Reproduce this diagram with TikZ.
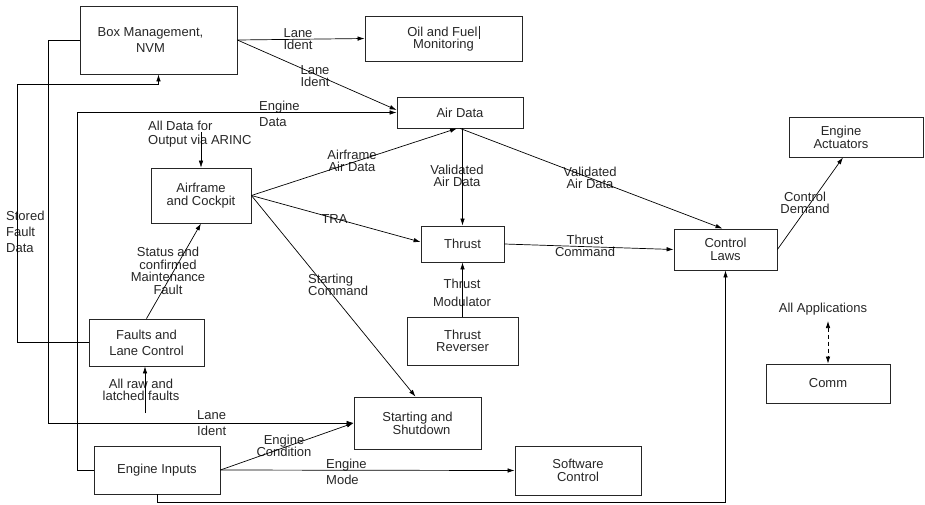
\documentclass[tikz,border=0pt]{standalone}
\usepackage{fontspec}
\setmainfont{Liberation Sans}
\usetikzlibrary{arrows.meta,calc}
\begin{document}
\begin{tikzpicture}[x=1pt,y=-1pt,
  box/.style={draw=black!85, line width=0.8pt, align=center, inner sep=0pt,
    text=black!85, font=\fontsize{13}{13}\selectfont},
  dims/.style 2 args={minimum width=#1pt, minimum height=#2pt},
  lbl/.style={inner sep=0pt, align=center, text=black!85},
  lead/.style={font=\fontsize{13}{#1}\selectfont},
  arr/.style={draw=black, line width=0.7pt, -{Latex[length=7pt,width=4.5pt]}},
  wire/.style={draw=black, line width=0.7pt}]
\useasboundingbox (0,0) rectangle (925,504);

% ---- function blocks ----
\node[box, dims={157}{68},
  label={[lbl, lead=16, xshift=-8pt]center:Box Management,\\NVM}] (bm) at (158.5,40) {};
\node[box, dims={157}{45}, lead=12.5] (oil) at (443.5,38.5)
  {Oil and Fuel\hspace{1.5pt}\rule[-2.5pt]{0.7pt}{13pt}\\Monitoring};
\node[box, dims={126}{31}] (air) at (460,112.5) {Air Data};
\node[box, dims={134}{40},
  label={[lbl, lead=13, xshift=-15pt]center:Engine\\Actuators}] (act) at (856,137) {};
\node[box, dims={103}{41}, lead=12.5] (cl) at (725.5,249.5) {Control\\Laws};
\node[box, dims={100}{55}] (afc) at (201,195.5) {Airframe\\and Cockpit};
\node[box, dims={83}{36}] (thr) at (462.5,244) {Thrust};
\node[box, dims={111}{48}, lead=12.5] (rev) at (462.5,341) {Thrust\\Reverser};
\node[box, dims={115}{47}, lead=16] (flc) at (146.5,342.5) {Faults and\\Lane Control};
\node[box, dims={126}{48}] (ei) at (157,470) {Engine Inputs};
\node[box, dims={127}{52}] (ss) at (417.5,423) {Starting and\\\hspace*{8pt}Shutdown};
\node[box, dims={126}{49}, lead=12.5] (sw) at (578,470.5) {Software\\Control};
\node[box, dims={124}{39}] (comm) at (828,383.5) {Comm};

% ---- flow labels ----
\node[lbl, lead=12.5] (t1) at (298,39) {Lane\\Ident};
\node[lbl, lead=12.5] (t2) at (315,76) {Lane\\Ident};
\node[lbl, lead=16, anchor=west, align=left] (t3) at (259,114) {Engine\\Data};
\node[lbl, lead=13.5, anchor=west, align=left] (t4) at (148,134) {All Data for\\Output via ARINC};
\node[lbl, lead=16, anchor=west, align=left] (t5) at (6,232) {Stored\\Fault\\Data};
\node[lbl, lead=12.5] (t6) at (168,271) {Status and\\confirmed\\Maintenance\\Fault};
\node[lbl, lead=12.5] (t7) at (141,390) {All raw and\\latched faults};
\node[lbl, lead=16, anchor=west, align=left] (t8) at (197,423) {Lane\\Ident};
\node[lbl, lead=12.5] (t9) at (284,446) {Engine\\Condition};
\node[lbl, lead=16, anchor=west, align=left] (t10) at (326,472) {Engine\\Mode};
\node[lbl, lead=12.5] (t11) at (352,161) {Airframe\\Air Data};
\node[lbl, lead=13] (t12) at (334.5,219) {TRA};
\node[lbl, lead=12.5, anchor=west, align=left] (t13) at (308,285) {Starting\\Command};
\node[lbl, lead=12.5] (t14) at (457,176) {Validated\\Air Data};
\node[lbl, lead=12.5] (t15) at (590,178) {Validated\\Air Data};
\node[lbl, lead=12.5] (t16) at (585,246) {Thrust\\Command};
\node[lbl, lead=18] (t17) at (462,293) {Thrust\\Modulator};
\node[lbl, lead=12.5] (t18) at (805,203) {Control\\Demand};
\node[lbl, lead=13] (t19) at (823,309) {All Applications};

% ---- free ends ----
\coordinate (arinc) at (201,132);
\coordinate (rawf) at (145,413);
\coordinate (apps) at (828,321);

% ---- connectors ----
\draw[arr] (bm.east) -- (oil.west);
\draw[arr] (bm.east) -- ([yshift=2.5pt]air.west);
\draw[arr] (ei.west) -- ++(-16,0) |- (air.west);
\draw[arr] (bm.west) -- ++(-31,0) |- (ss.west);
\draw[arr] (flc.west) -- ++(-71,0) |- ([yshift=-10pt]bm.south) -- (bm.south);
\draw[arr, line width=0.5pt] (arinc) -- (afc.north);
\draw[arr] (afc.east) -- ([xshift=-3pt]air.south);
\draw[arr] (afc.east) -- ([yshift=2pt]thr.west);
\draw[arr] (afc.east) -- ([xshift=-2pt]ss.north);
\draw[arr] (flc.north) -- (afc.south);
\draw[arr] (rawf) -- (rawf |- flc.south);
\draw[arr] (thr.north |- air.south) -- (thr.north);
\draw[arr] (air.south) -- ([xshift=-3pt]cl.north);
\draw[arr] (thr.east) -- (cl.west);
\draw[arr] (rev.north) -- (thr.south);
\draw[arr] (cl.east) -- ([xshift=-13pt]act.south);
\draw[arr] (ei.east) -- (ss.west);
\draw[arr] (ei.east) -- (sw.west);
\draw[arr] (ei.south) -- ++(0,8) -| (cl.south);
\draw[wire, dash pattern=on 4pt off 3pt,
  {Latex[length=7pt,width=4.5pt]}-{Latex[length=7pt,width=4.5pt]}] (apps) -- (comm.north);
\end{tikzpicture}
\end{document}
